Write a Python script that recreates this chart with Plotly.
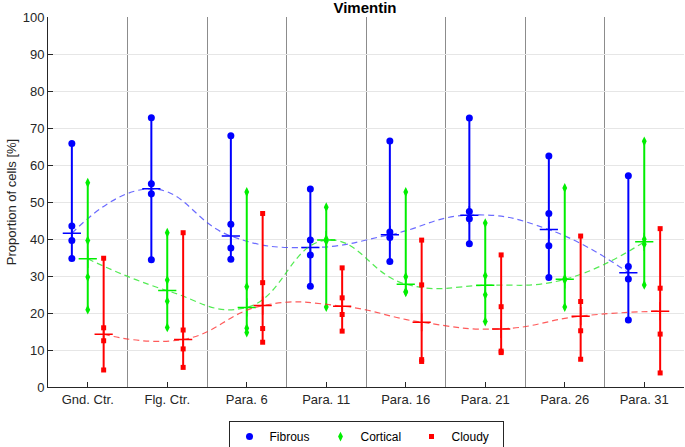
import numpy as np
import plotly.graph_objects as go

categories = ["Gnd. Ctr.", "Flg. Ctr.", "Para. 6", "Para. 11", "Para. 16", "Para. 21", "Para. 26", "Para. 31"]

fibrous = [
    [65.8, 43.5, 39.6, 34.7],
    [72.8, 54.9, 52.2, 34.4],
    [67.9, 44.0, 37.6, 34.5],
    [53.5, 39.7, 35.7, 27.2],
    [66.5, 41.9, 40.4, 33.9],
    [72.7, 47.4, 45.5, 38.7],
    [62.4, 46.9, 38.2, 29.6],
    [57.1, 32.6, 29.2, 18.1],
]
cortical = [
    [55.2, 39.6, 29.7, 20.9],
    [41.7, 28.9, 23.2, 16.1],
    [52.7, 27.1, 15.9, 14.7],
    [48.6, 40.0, 39.4, 21.6],
    [52.7, 29.8, 25.8, 25.6],
    [44.3, 30.1, 24.9, 17.7],
    [53.8, 29.3, 28.9, 21.6],
    [66.4, 39.9, 38.6, 27.6],
]
cloudy = [
    [34.8, 16.0, 12.5, 4.6],
    [41.7, 15.4, 10.3, 5.3],
    [46.9, 28.2, 15.8, 12.1],
    [32.2, 24.1, 19.6, 15.1],
    [39.7, 27.6, 7.4, 6.9],
    [35.7, 21.7, 9.7, 9.3],
    [40.8, 23.1, 15.2, 7.5],
    [42.8, 26.7, 14.3, 3.8],
]

series = [
    ("Fibrous", fibrous, "#0000ff", "rgba(70,70,255,0.8)", "circle", 7, -0.2),
    ("Cortical", cortical, "#00ee00", "rgba(40,230,40,0.8)", "diamond-tall", 7, 0.0),
    ("Cloudy", cloudy, "#ff0000", "rgba(255,50,50,0.8)", "square", 5, 0.2),
]

FONT = "Liberation Sans, Arial, sans-serif"
fig = go.Figure()
n = len(categories)
pos = np.arange(1, n + 1)

for name, data, col, dcol, sym, msize, off in series:
    xs = pos + off
    med = [float(np.median(v)) for v in data]
    fig.add_trace(go.Scatter(x=xs, y=med, mode="lines",
                             line=dict(color=dcol, width=1.2, dash="6px,4px", shape="spline", smoothing=1.3),
                             showlegend=False, hoverinfo="skip"))
    lx, ly = [], []
    for x, v in zip(xs, data):
        lx += [x, x, None]
        ly += [min(v), max(v), None]
    fig.add_trace(go.Scatter(x=lx, y=ly, mode="lines", line=dict(color=col, width=2),
                             showlegend=False, hoverinfo="skip"))
    px, py = [], []
    for x, v in zip(xs, data):
        px += [x] * len(v)
        py += list(v)
    fig.add_trace(go.Scatter(x=px, y=py, mode="markers", name=name,
                             marker=dict(color=col, symbol=sym, size=msize)))
    fig.add_trace(go.Scatter(x=xs, y=med, mode="markers", showlegend=False,
                             marker=dict(symbol="cross-thin", size=13, line=dict(color=col, width=1.5))))

fig.update_layout(
    width=685, height=447,
    margin=dict(l=48, r=1, t=17, b=60, autoexpand=False),
    paper_bgcolor="white", plot_bgcolor="white",
    font=dict(family=FONT, size=13, color="#262626"),
    title=dict(text="<b>Vimentin</b>", x=365 / 685, xanchor="center", y=1 - 7.5 / 447, yanchor="middle",
               font=dict(size=15, color="black")),
    legend=dict(orientation="h", x=(366 - 48) / 636, xanchor="center", y=-0.092, yanchor="top",
                bordercolor="#262626", borderwidth=1, font=dict(size=12, color="black"),
                itemsizing="trace", tracegroupgap=0, entrywidth=46, entrywidthmode="pixels"),
)
fig.update_xaxes(range=[0.5, n + 0.5], tickvals=pos, ticktext=categories, automargin=False,
                 showgrid=False, zeroline=False, showline=True, linecolor="#262626", linewidth=1,
                 ticks="inside", ticklen=5, tickcolor="#262626",
                 minor=dict(tickvals=list(pos[:-1] + 0.5), showgrid=True, gridcolor="#8c8c8c",
                            gridwidth=1.3, ticks=""))
fig.update_yaxes(range=[0, 100], dtick=10, showgrid=True, gridcolor="#e6e6e6", gridwidth=1,
                 zeroline=False, showline=True, linecolor="#262626", linewidth=1, automargin=False,
                 ticks="inside", ticklen=5, tickcolor="#262626",
                 title=dict(text="Proportion of cells [%]", font=dict(size=13), standoff=3))

fig.write_html("out.html", config={"displayModeBar": False},
               post_script="document.body.style.margin='0';document.body.style.padding='0';")
